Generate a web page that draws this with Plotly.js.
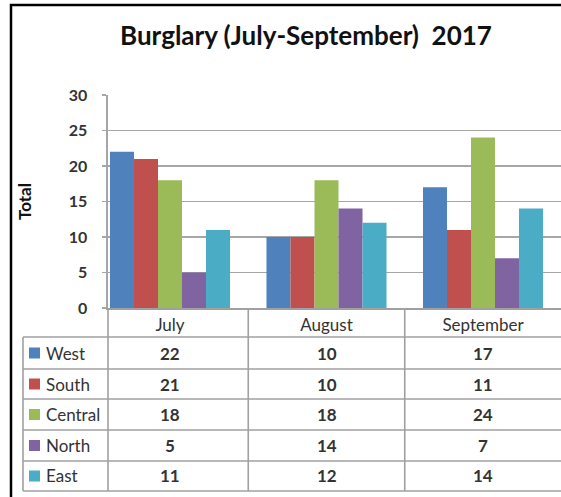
<!DOCTYPE html>
<html>
<head>
<meta charset="utf-8">
<script src="https://cdn.plot.ly/plotly-3.0.1.min.js"></script>
<style>html,body{margin:0;padding:0;background:#fff;}#chart{width:561px;height:497px;}</style>
</head>
<body>
<div id="chart"></div>
<script>
// ---- data ----
const months = ['July', 'August', 'September'];
const regions = ['West', 'South', 'Central', 'North', 'East'];
const west = [22, 10, 17];
const south = [21, 10, 11];
const central = [18, 18, 24];
const north = [5, 14, 7];
const east = [11, 12, 14];
const yTicks = [0, 5, 10, 15, 20, 25, 30];

const seriesValues = [west, south, central, north, east];
const colors = ['#4F81BD', '#C0504D', '#9BBB59', '#8064A2', '#4BACC6'];

// ---- layout geometry (pixels) ----
const W = 561, H = 497, L = 108, R = 0, T = 95, B = 189;
const plotW = W - L - R, plotH = H - T - B;
const px = x => (x - L) / plotW;          // pixel x -> paper
const py = y => (H - B - y) / plotH;      // pixel y -> paper

const FONT = 'Lato, "Open Sans", sans-serif';
const gridCol = '#a6a6a6';
const tableCol = '#a0a0a0';
const textCol = '#333333';

const traces = regions.map((r, i) => ({
  type: 'bar',
  name: r,
  x: months,
  y: seriesValues[i],
  marker: {color: colors[i], line: {width: 0}},
  hoverinfo: 'skip'
}));

// table rows (pixel boundaries)
const rowEdges = [337, 369, 399, 430, 461, 491];
const headerTop = 308;

const shapes = [];
const annotations = [];

// outer frame (left & top visible)
shapes.push({type: 'rect', xref: 'paper', yref: 'paper',
  x0: px(11), x1: px(620), y0: py(5), y1: py(620),
  line: {color: '#000', width: 2.5}, fillcolor: 'rgba(0,0,0,0)', layer: 'above'});

// horizontal table lines
rowEdges.forEach(y => {
  shapes.push({type: 'line', xref: 'paper', yref: 'paper',
    x0: px(23), x1: px(600), y0: py(y), y1: py(y),
    line: {color: tableCol, width: 1.6}});
});
// vertical table lines
shapes.push({type: 'line', xref: 'paper', yref: 'paper',
  x0: px(23), x1: px(23), y0: py(rowEdges[0]), y1: py(rowEdges[rowEdges.length - 1]),
  line: {color: tableCol, width: 1.6}});
shapes.push({type: 'line', xref: 'paper', yref: 'paper',
  x0: 0, x1: 0, y0: py(headerTop), y1: py(rowEdges[rowEdges.length - 1]),
  line: {color: tableCol, width: 1.6}});
for (let j = 0; j < months.length - 1; j++) {
  shapes.push({type: 'line', xref: 'x', yref: 'paper',
    x0: j + 0.5, x1: j + 0.5, y0: py(headerTop), y1: py(rowEdges[rowEdges.length - 1]),
    line: {color: tableCol, width: 1.6}});
}

// legend column + values
regions.forEach((r, i) => {
  const yc = (rowEdges[i] + rowEdges[i + 1]) / 2;
  shapes.push({type: 'rect', xref: 'paper', yref: 'paper',
    x0: px(29), x1: px(40), y0: py(yc - 5.5), y1: py(yc + 5.5),
    fillcolor: colors[i], line: {width: 0}});
  annotations.push({xref: 'paper', yref: 'paper', x: px(44), y: py(yc),
    xanchor: 'left', yanchor: 'middle', showarrow: false, text: r,
    font: {family: FONT, size: 17, color: textCol}});
  seriesValues[i].forEach((v, j) => {
    annotations.push({xref: 'x', yref: 'paper', x: months[j], y: py(yc),
      xanchor: 'center', yanchor: 'middle', showarrow: false, text: String(v),
      font: {family: FONT, size: 17, color: textCol, weight: 'bold'}});
  });
});

const catSpacing = 156.5, firstCenter = 170;
const layout = {
  width: W, height: H,
  margin: {l: L, r: R, t: T, b: B, pad: 0},
  paper_bgcolor: '#fff', plot_bgcolor: '#fff',
  showlegend: false,
  barmode: 'group', bargap: 0.233, bargroupgap: 0,
  title: {text: 'Burglary (July-September)  2017', xref: 'container', yref: 'container',
    x: 306 / W, y: 1 - 36 / H, xanchor: 'center', yanchor: 'middle',
    font: {family: FONT, size: 26, color: '#111111', weight: 'bold'}},
  xaxis: {
    type: 'category',
    range: [(L - firstCenter) / catSpacing, (W - R - firstCenter) / catSpacing],
    showgrid: false, zeroline: false,
    showline: true, linecolor: tableCol, linewidth: 1.6,
    ticks: '', ticklabelstandoff: 1,
    tickfont: {family: FONT, size: 17, color: textCol},
    fixedrange: true
  },
  yaxis: {
    range: [0, 30], tickvals: yTicks,
    showgrid: true, gridcolor: gridCol, gridwidth: 1.6,
    zeroline: false,
    showline: true, linecolor: gridCol, linewidth: 1.6,
    ticks: 'outside', ticklen: 4, tickcolor: gridCol, tickwidth: 1.6,
    ticklabelstandoff: 12,
    tickfont: {family: FONT, size: 16, color: textCol, weight: 'bold'},
    title: {text: 'Total', standoff: 32, font: {family: FONT, size: 17, color: '#111111', weight: 'bold'}},
    fixedrange: true
  },
  shapes: shapes,
  annotations: annotations
};

Plotly.newPlot('chart', traces, layout, {displayModeBar: false, staticPlot: true});
</script>
</body>
</html>
